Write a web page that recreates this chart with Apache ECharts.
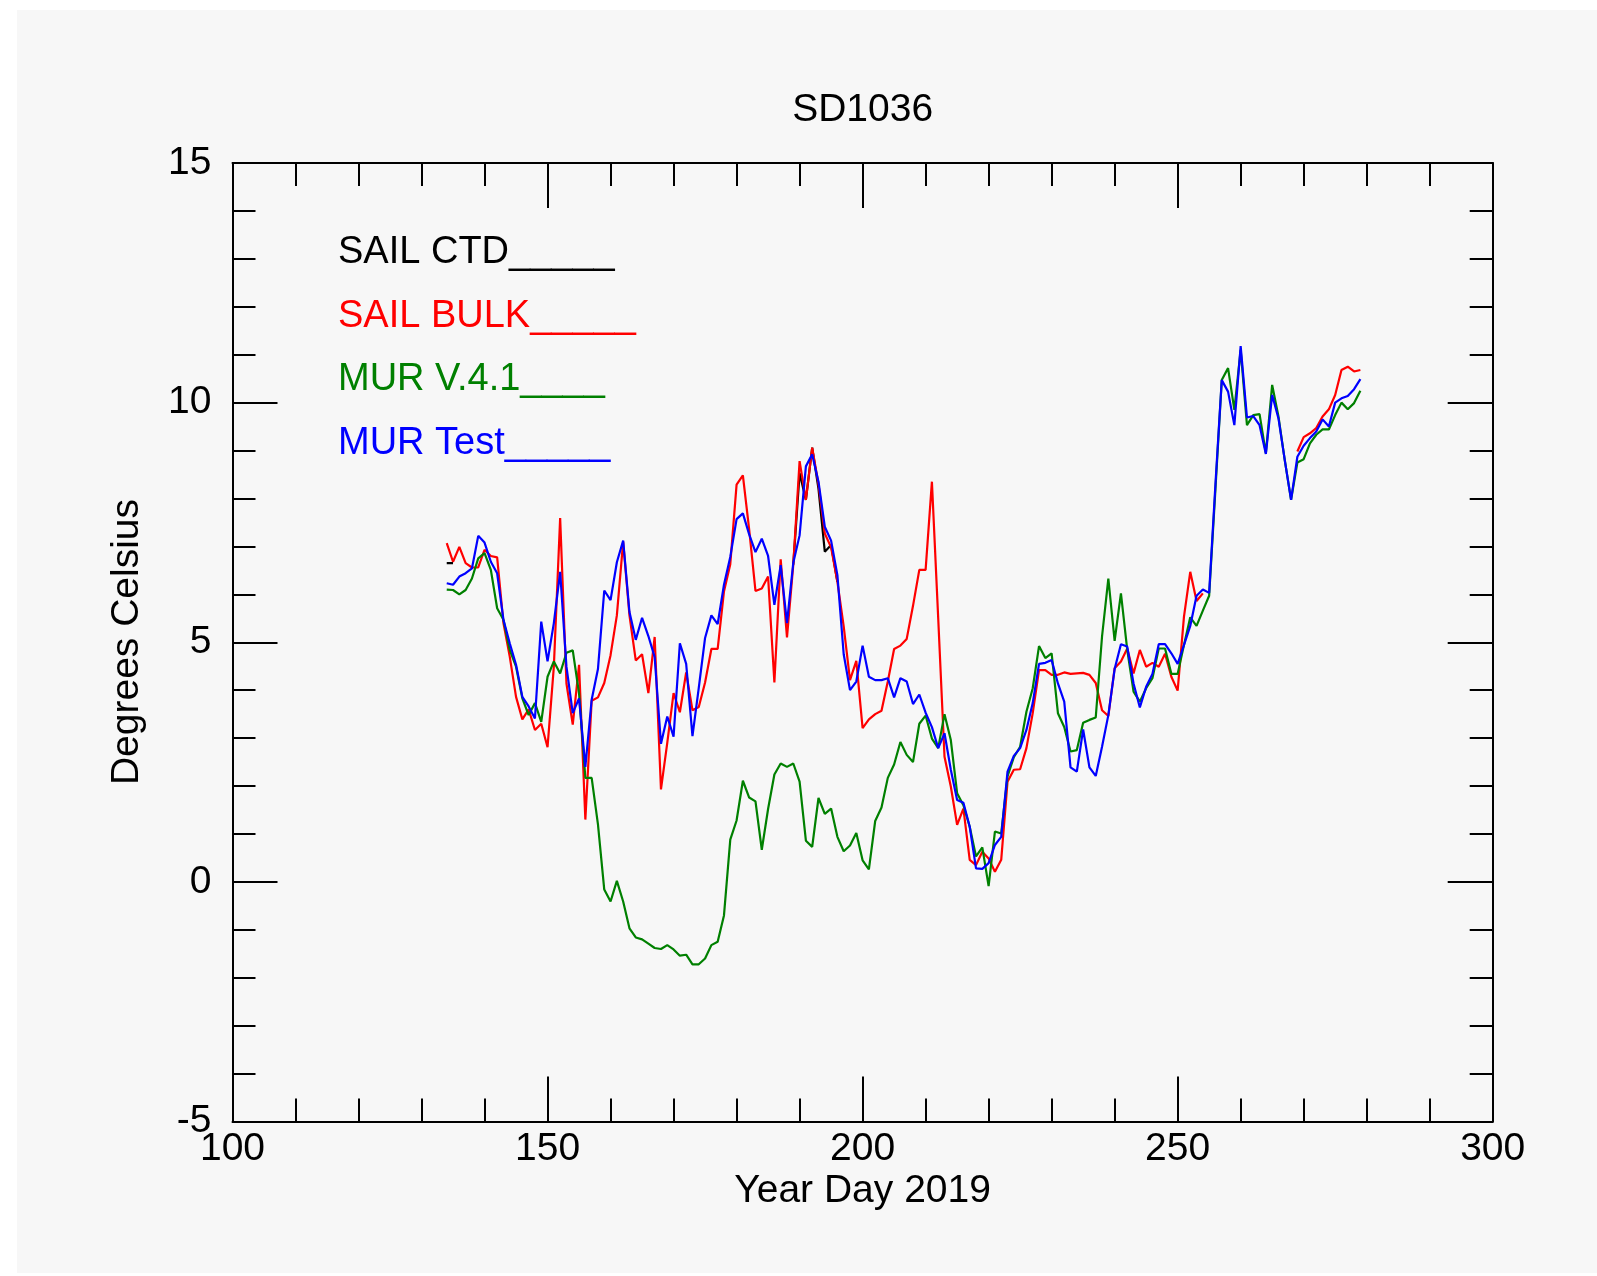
<!DOCTYPE html>
<html>
<head>
<meta charset="utf-8">
<script src="https://cdn.jsdelivr.net/npm/echarts@6/dist/echarts.min.js"></script>
<style>
  html, body { margin: 0; padding: 0; background: #ffffff; }
  #bg { position: absolute; left: 17px; top: 10px; width: 1580px; height: 1263px; background: #f7f7f7; }
  #chart { position: absolute; left: 0; top: 0; width: 1597px; height: 1276px; }
</style>
</head>
<body>
<div id="bg"></div>
<div id="chart"></div>
<script>
const titleText = 'SD1036';
const xName = 'Year Day 2019';
const yName = 'Degrees Celsius';
const xTicks = [100, 150, 200, 250, 300];
const yTicks = [-5, 0, 5, 10, 15];

const seriesNames = ['SAIL CTD', 'SAIL BULK', 'MUR V.4.1', 'MUR Test'];
const legendSuffix = ['_____', '_____', '____', '_____'];
const seriesColors = ['#000000', '#ff0000', '#008000', '#0000ff'];

const days = [134,135,136,137,138,139,140,141,142,143,144,145,146,147,148,149,150,151,152,153,154,155,156,157,158,159,160,161,162,163,164,165,166,167,168,169,170,171,172,173,174,175,176,177,178,179,180,181,182,183,184,185,186,187,188,189,190,191,192,193,194,195,196,197,198,199,200,201,202,203,204,205,206,207,208,209,210,211,212,213,214,215,216,217,218,219,220,221,222,223,224,225,226,227,228,229,230,231,232,233,234,235,236,237,238,239,240,241,242,243,244,245,246,247,248,249,250,251,252,253,254,255,256,257,258,259,260,261,262,263,264,265,266,267,268,269,270,271,272,273,274,275,276,277,278,279];

// SAIL CTD: mostly hidden beneath the other lines; only the visible fragments are given
const ctdDays =   [134, 135, 136, 189, 190, 191, 192, 193, 194, 195, 196];
const ctdValues = [6.65, 6.65, null, 6.62, 8.53, 7.97, 9.06, 8.20, 6.89, 7.03, 6.26];

const sailBulk = [7.07,6.68,6.99,6.65,6.56,6.56,6.93,6.80,6.77,5.40,4.70,3.86,3.39,3.60,3.17,3.30,2.81,4.49,7.59,4.14,3.28,4.53,1.30,3.78,3.85,4.15,4.73,5.56,7.10,5.56,4.62,4.75,3.94,5.11,1.93,2.90,3.94,3.54,4.37,3.58,3.65,4.16,4.86,4.86,6.06,6.63,8.29,8.48,7.35,6.07,6.12,6.37,4.16,6.73,5.10,6.62,8.78,7.97,9.06,8.30,7.27,6.98,6.26,5.33,4.21,4.61,3.21,3.39,3.50,3.57,4.18,4.86,4.93,5.07,5.76,6.51,6.51,8.35,5.50,2.61,1.99,1.19,1.53,0.46,0.35,0.63,0.49,0.21,0.46,2.09,2.34,2.35,2.79,3.52,4.42,4.42,4.32,4.32,4.37,4.34,4.35,4.36,4.32,4.15,3.58,3.46,4.46,4.60,4.87,4.35,4.84,4.49,4.57,4.49,4.76,4.28,3.99,5.53,6.47,5.86,6.02,null,null,null,null,null,null,null,null,null,null,null,null,null,null,8.98,9.28,9.36,9.47,9.71,9.86,10.16,10.68,10.75,10.65,10.68];

const murV41 = [6.10,6.09,6.00,6.09,6.33,6.75,6.86,6.51,5.71,5.47,4.84,4.49,3.83,3.48,3.73,3.34,4.28,4.60,4.35,4.78,4.83,3.93,2.17,2.17,1.20,-0.16,-0.41,0.02,-0.41,-0.97,-1.16,-1.20,-1.29,-1.38,-1.40,-1.32,-1.41,-1.54,-1.52,-1.72,-1.72,-1.60,-1.32,-1.25,-0.70,0.88,1.28,2.11,1.76,1.68,0.67,1.52,2.24,2.47,2.40,2.47,2.09,0.86,0.73,1.75,1.42,1.53,0.94,0.64,0.76,1.02,0.45,0.26,1.27,1.55,2.17,2.45,2.92,2.65,2.50,3.30,3.47,2.99,2.79,3.50,2.96,1.85,1.60,1.15,0.53,0.72,-0.09,1.05,1.01,2.20,2.60,2.82,3.55,4.04,4.92,4.67,4.77,3.52,3.23,2.72,2.75,3.32,3.38,3.43,5.12,6.33,5.03,6.02,4.84,3.97,3.76,4.04,4.25,4.87,4.87,4.34,4.34,4.94,5.52,5.34,5.66,5.97,8.20,10.47,10.72,9.85,11.10,9.53,9.74,9.76,8.94,10.37,9.71,8.80,7.97,8.75,8.82,9.15,9.33,9.44,9.44,9.74,10.00,9.86,9.99,10.25];

const murTest = [6.23,6.20,6.37,6.44,6.54,7.22,7.08,6.68,6.44,5.47,4.98,4.53,3.86,3.66,3.41,5.43,4.60,5.40,6.47,4.49,3.52,3.83,2.40,3.80,4.44,6.08,5.88,6.67,7.12,5.63,5.05,5.51,5.13,4.69,2.88,3.45,3.03,4.98,4.55,3.04,4.05,5.09,5.56,5.38,6.20,6.78,7.57,7.69,7.25,6.88,7.16,6.80,5.78,6.61,5.40,6.66,7.23,8.67,8.92,8.35,7.41,7.12,6.40,4.75,4.00,4.18,4.93,4.28,4.21,4.21,4.25,3.85,4.25,4.18,3.71,3.91,3.53,3.23,2.79,3.10,2.34,1.71,1.65,1.15,0.28,0.27,0.39,0.77,0.94,2.30,2.63,2.79,3.17,3.73,4.55,4.57,4.63,4.14,3.76,2.39,2.30,3.18,2.39,2.21,2.82,3.48,4.44,4.96,4.91,4.14,3.64,4.07,4.34,4.96,4.96,4.77,4.55,4.94,5.34,5.97,6.10,6.03,8.30,10.47,10.23,9.53,11.18,9.69,9.72,9.53,8.93,10.16,9.67,8.80,7.97,8.87,9.10,9.26,9.40,9.65,9.50,10.00,10.09,10.14,10.28,10.49];

const FONT = "'Liberation Sans', Arial, Helvetica, sans-serif";
const chart = echarts.init(document.getElementById('chart'), null, { renderer: 'canvas' });

function axisCommon(ticks, showLabel, isY) {
  return {
    type: 'value',
    min: ticks[0],
    max: ticks[ticks.length - 1],
    interval: ticks[1] - ticks[0],
    axisLine: { show: true, onZero: false, lineStyle: { color: '#000', width: 2 } },
    axisTick: { show: true, inside: true, length: 45, lineStyle: { color: '#000', width: 2 } },
    minorTick: { show: true, splitNumber: 5, length: 23, lineStyle: { color: '#000', width: 2 } },
    splitLine: { show: false },
    minorSplitLine: { show: false },
    axisLabel: {
      show: showLabel,
      color: '#000',
      fontSize: 39,
      fontFamily: FONT,
      margin: isY ? 21 : 8,
      showMinLabel: true,
      showMaxLabel: true,
      hideOverlap: false
    }
  };
}

function makeSeries(i, xs, vals) {
  return {
    name: seriesNames[i],
    type: 'line',
    xAxisIndex: 0,
    yAxisIndex: 0,
    data: xs.map((d, k) => [d, vals[k]]),
    showSymbol: false,
    symbol: 'none',
    connectNulls: false,
    lineStyle: { color: seriesColors[i], width: 2.2 },
    itemStyle: { color: seriesColors[i] },
    silent: true,
    animation: false,
    z: 2 + i
  };
}

const series = [
  makeSeries(0, ctdDays, ctdValues),
  makeSeries(1, days, sailBulk),
  makeSeries(2, days, murV41),
  makeSeries(3, days, murTest)
];

const legendRowsY = [252.5, 316.8, 379.8, 444];
const graphics = [
  { type: 'text', x: 862.6, y: 110.5, style: { text: titleText, fill: '#000', font: '39px ' + FONT, textAlign: 'center', textVerticalAlign: 'middle' } },
  { type: 'text', x: 862.6, y: 1191, style: { text: xName, fill: '#000', font: '39px ' + FONT, textAlign: 'center', textVerticalAlign: 'middle' } },
  { type: 'text', x: 127, y: 642, rotation: Math.PI / 2, style: { text: yName, fill: '#000', font: '39px ' + FONT, textAlign: 'center', textVerticalAlign: 'middle' } }
];
seriesNames.forEach((n, i) => {
  graphics.push({ type: 'text', x: 338, y: legendRowsY[i], style: { text: n + legendSuffix[i], fill: seriesColors[i], font: '38px ' + FONT, textAlign: 'left', textVerticalAlign: 'middle' } });
});

chart.setOption({
  animation: false,
  backgroundColor: 'transparent',
  grid: { left: 232.5, right: 104.3, top: 163, bottom: 154.5, containLabel: false },
  xAxis: [
    Object.assign(axisCommon(xTicks, true, false), { position: 'bottom' }),
    Object.assign(axisCommon(xTicks, false, false), { position: 'top' })
  ],
  yAxis: [
    Object.assign(axisCommon(yTicks, true, true), { position: 'left' }),
    Object.assign(axisCommon(yTicks, false, true), { position: 'right' })
  ],
  series: series,
  graphic: graphics
});
</script>
</body>
</html>
